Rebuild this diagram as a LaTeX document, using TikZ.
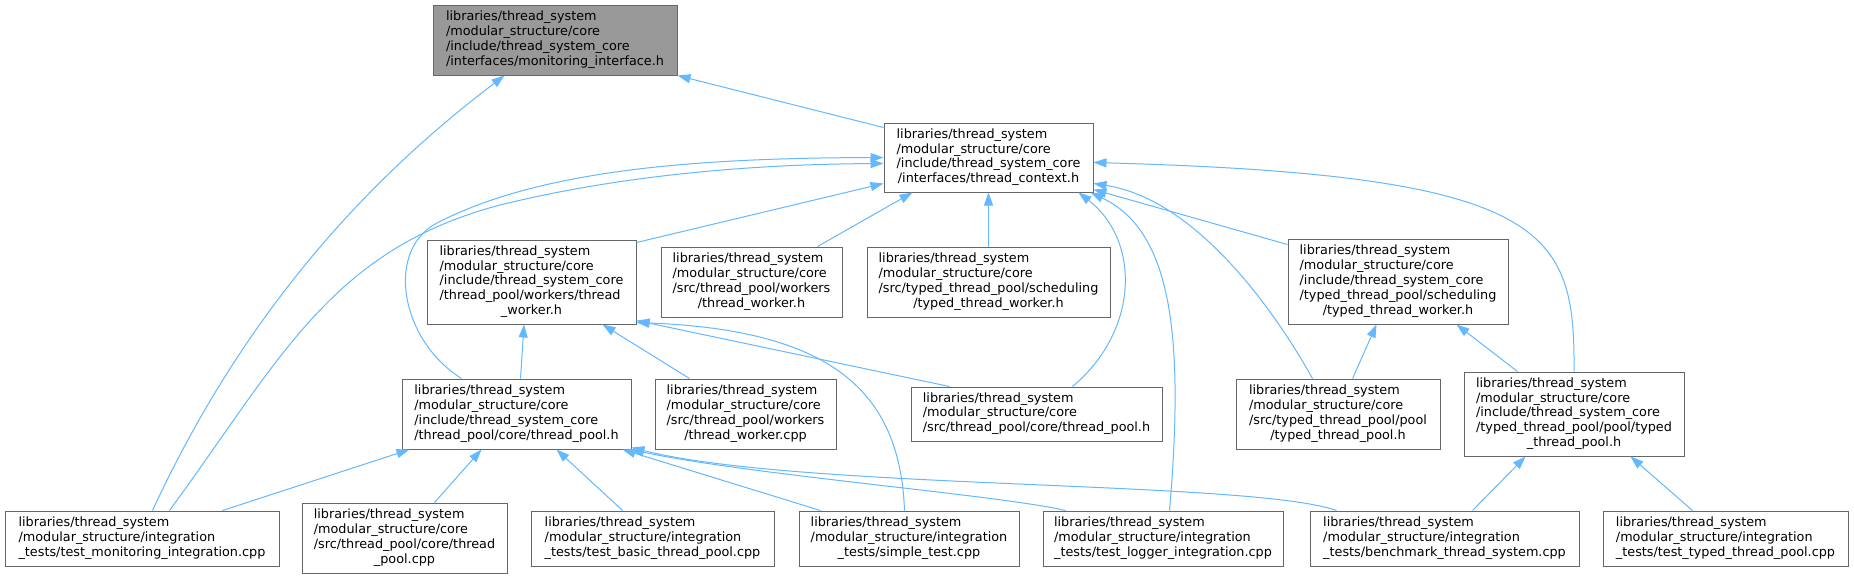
\documentclass[tikz,border=0pt]{standalone}
\usepackage{fontspec}
\setmainfont{DejaVu Sans}
\usepackage{tikz}
\usetikzlibrary{arrows.meta}
\definecolor{boxgray}{HTML}{666666}
\definecolor{rootgray}{HTML}{999999}
\definecolor{edgeblue}{HTML}{63B8FF}
\newcommand{\flines}[2]{\begin{tabular}{@{}l@{}}#1\\\multicolumn{1}{@{}c@{}}{#2}\end{tabular}}
\tikzset{
  file/.style={draw=boxgray,line width=1pt,fill=white,inner sep=0pt,font=\fontsize{12.8}{14.8}\selectfont},
  root/.style={file,fill=rootgray},
  incl/.style={draw=edgeblue,line width=1pt,-{Triangle[length=13pt,width=9pt]}}
}

\begin{document}
\begin{tikzpicture}[x=1pt,y=-1pt]
  \path[use as bounding box,fill=white] (0,0) rectangle (1854,579);
  % files
  \node[root,minimum width=244,minimum height=70] (mon) at (555,40) {\flines{libraries/thread\_system\\/modular\_structure/core\\/include/thread\_system\_core}{/interfaces/monitoring\_interface.h}};
  \node[file,minimum width=209,minimum height=69] (ctx) at (988.5,157.5) {\flines{libraries/thread\_system\\/modular\_structure/core\\/include/thread\_system\_core}{/interfaces/thread\_context.h}};
  \node[file,minimum width=209,minimum height=84] (worker) at (531.5,282) {\flines{libraries/thread\_system\\/modular\_structure/core\\/include/thread\_system\_core\\/thread\_pool/workers/thread}{\_worker.h}};
  \node[file,minimum width=181,minimum height=70] (srcworker) at (751.5,282) {\flines{libraries/thread\_system\\/modular\_structure/core\\/src/thread\_pool/workers}{/thread\_worker.h}};
  \node[file,minimum width=243,minimum height=70] (srctworker) at (988.5,282) {\flines{libraries/thread\_system\\/modular\_structure/core\\/src/typed\_thread\_pool/scheduling}{/typed\_thread\_worker.h}};
  \node[file,minimum width=220,minimum height=85] (tworker) at (1398,281.5) {\flines{libraries/thread\_system\\/modular\_structure/core\\/include/thread\_system\_core\\/typed\_thread\_pool/scheduling}{/typed\_thread\_worker.h}};
  \node[file,minimum width=229,minimum height=70] (pool) at (516.5,414) {\flines{libraries/thread\_system\\/modular\_structure/core\\/include/thread\_system\_core}{/thread\_pool/core/thread\_pool.h}};
  \node[file,minimum width=181,minimum height=70] (workercpp) at (745.5,414) {\flines{libraries/thread\_system\\/modular\_structure/core\\/src/thread\_pool/workers}{/thread\_worker.cpp}};
  \node[file,minimum width=251,minimum height=54] (srcpool) at (1036.5,414) {\flines{libraries/thread\_system\\/modular\_structure/core}{/src/thread\_pool/core/thread\_pool.h}};
  \node[file,minimum width=204,minimum height=70] (srctpool) at (1338,414) {\flines{libraries/thread\_system\\/modular\_structure/core\\/src/typed\_thread\_pool/pool}{/typed\_thread\_pool.h}};
  \node[file,minimum width=220,minimum height=84] (tpool) at (1574,414) {\flines{libraries/thread\_system\\/modular\_structure/core\\/include/thread\_system\_core\\/typed\_thread\_pool/pool/typed}{\_thread\_pool.h}};
  \node[file,minimum width=274,minimum height=55] (tmon) at (142,538.5) {\flines{libraries/thread\_system\\/modular\_structure/integration}{\_tests/test\_monitoring\_integration.cpp}};
  \node[file,minimum width=205,minimum height=70] (poolcpp) at (404.5,538) {\flines{libraries/thread\_system\\/modular\_structure/core\\/src/thread\_pool/core/thread}{\_pool.cpp}};
  \node[file,minimum width=243,minimum height=55] (tbasic) at (652.5,538.5) {\flines{libraries/thread\_system\\/modular\_structure/integration}{\_tests/test\_basic\_thread\_pool.cpp}};
  \node[file,minimum width=220,minimum height=55] (tsimple) at (909,538.5) {\flines{libraries/thread\_system\\/modular\_structure/integration}{\_tests/simple\_test.cpp}};
  \node[file,minimum width=240,minimum height=55] (tlogger) at (1163,538.5) {\flines{libraries/thread\_system\\/modular\_structure/integration}{\_tests/test\_logger\_integration.cpp}};
  \node[file,minimum width=269,minimum height=55] (tbench) at (1444.5,538.5) {\flines{libraries/thread\_system\\/modular\_structure/integration}{\_tests/benchmark\_thread\_system.cpp}};
  \node[file,minimum width=245,minimum height=55] (ttyped) at (1725.5,538.5) {\flines{libraries/thread\_system\\/modular\_structure/integration}{\_tests/test\_typed\_thread\_pool.cpp}};
  % includes
  \draw[incl] ([yshift=-5pt]ctx.north west) -- (mon.south east);
  \draw[incl] ([xshift=148pt]tmon.north west) .. controls (250,300) and (380,170) .. ([xshift=72pt]mon.south west);
  \draw[incl] ([yshift=-3pt]worker.north east) -- ([yshift=9pt]ctx.south west);
  \draw[incl] ([xshift=157pt]srcworker.north west) -- ([xshift=29pt]ctx.south west);
  \draw[incl] (srctworker.north) -- (ctx.south);
  \draw[incl] ([yshift=-6pt]tworker.north west) -- ([yshift=3pt]ctx.south east);
  \draw[incl] ([xshift=77pt]srctpool.north west) .. controls (1280,320) and (1200,200) .. ([yshift=9pt]ctx.south east);
  \draw[incl] ([xshift=162pt]srcpool.north west) .. controls (1140,330) and (1140,240) .. ([xshift=-15pt]ctx.south east);
  \draw[incl] ([xshift=127pt]tlogger.north west) .. controls (1185,330) and (1170,230) .. ([xshift=-3pt]ctx.south east);
  \draw[incl] (tpool.north) .. controls (1575,230) and (1550,175) .. ([yshift=-40pt]ctx.north east);
  \draw[incl] ([xshift=60pt]pool.north west) .. controls (400,340) and (385,250) .. (437,223) .. controls (541,169) and (700,158) .. ([yshift=-35pt]ctx.north west);
  \draw[incl] ([xshift=165pt]tmon.north west) .. controls (280,360) and (330,250) .. (500,205) .. controls (650,168) and (800,164) .. ([yshift=-41pt]ctx.north west);
  \draw[incl] ([xshift=4pt]pool.north) -- ([xshift=-7.5pt]worker.south);
  \draw[incl] ([xshift=35pt]workercpp.north west) -- ([xshift=176pt]worker.south west);
  \draw[incl] ([xshift=39pt]srcpool.north west) -- ([yshift=4pt]worker.south east);
  \draw[incl] ([xshift=106pt]tsimple.north west) .. controls (900,390) and (830,330) .. ([yshift=2pt]worker.south east);
  \draw[incl] ([xshift=117pt]srctpool.north west) -- ([xshift=89pt]tworker.south west);
  \draw[incl] ([xshift=54pt]tpool.north west) -- ([xshift=169pt]tworker.south west);
  \draw[incl] ([xshift=218pt]tmon.north west) -- ([xshift=8pt]pool.south west);
  \draw[incl] ([xshift=133pt]poolcpp.north west) -- ([xshift=80pt]pool.south west);
  \draw[incl] ([xshift=92pt]tbasic.north west) -- ([xshift=155pt]pool.south west);
  \draw[incl] ([xshift=22pt]tsimple.north west) -- ([xshift=-9pt]pool.south east);
  \draw[incl] ([xshift=23pt]tlogger.north west) .. controls (1000,495) and (750,475) .. ([xshift=-1pt]pool.south east);
  \draw[incl] ([xshift=27pt]tbench.north west) .. controls (1250,480) and (800,490) .. ([yshift=2pt]pool.south east);
  \draw[incl] ([xshift=163pt]tbench.north west) -- ([xshift=62pt]tpool.south west);
  \draw[incl] ([xshift=90pt]ttyped.north west) -- ([xshift=167pt]tpool.south west);
\end{tikzpicture}
\end{document}
